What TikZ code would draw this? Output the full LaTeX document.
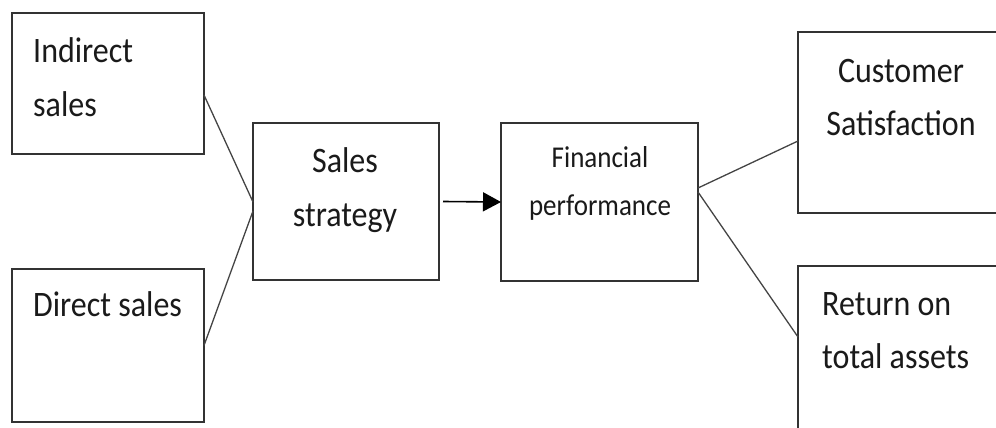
\documentclass[tikz,border=0pt]{standalone}
\usepackage{fontspec}
\usepackage{graphicx}
\setmainfont{Carlito}
\usetikzlibrary{calc,arrows.meta}
\definecolor{boxline}{HTML}{333333}
\definecolor{linkline}{HTML}{444444}
\definecolor{txt}{HTML}{1A1A1A}
% slightly tall lettering
\newcommand\tallword[1]{\scalebox{1}[1.12]{#1}}
\tikzset{
  block/.style={draw=boxline,line width=2pt,fill=white,inner sep=0pt,outer sep=0pt},
  link/.style={draw=linkline,line width=1.3pt},
  flow/.style={draw=black,line width=1.6pt,-{Triangle[length=18pt,width=19pt]}},
  bigtxt/.style={inner sep=0pt,text=txt,font=\fontsize{32}{40}\selectfont},
  smalltxt/.style={inner sep=0pt,text=txt,font=\fontsize{27}{34}\selectfont},
}
\begin{document}
\begin{tikzpicture}[x=1pt,y=-1pt]
\useasboundingbox (0,0) rectangle (996,428);
\clip (0,0) rectangle (996,428);

% boxes
\node[block,minimum width=192pt,minimum height=141pt] (ind) at (108,83.5) {};
\node[block,minimum width=192pt,minimum height=153pt] (dir) at (108,345.5) {};
\node[block,minimum width=186pt,minimum height=157pt] (strat) at (346,201.5) {};
\node[block,minimum width=197pt,minimum height=158pt] (fin) at (599.5,202) {};
\node[block,minimum width=206pt,minimum height=181pt] (cust) at (901,122.5) {};
\node[block,minimum width=206pt,minimum height=174pt] (ret) at (901,353) {};

% labels
\node[bigtxt,anchor=base west] (ind1) at (33,63) {\tallword{Indirect}};
\node[bigtxt,anchor=base west] (ind2) at (33,117) {\tallword{sales}};
\node[bigtxt,anchor=base west] (dir1) at (33,316) {\tallword{Direct sales}};
\node[bigtxt,anchor=base] (str1) at (345,172) {\tallword{Sales}};
\node[bigtxt,anchor=base] (str2) at (345,226) {\tallword{strategy}};
\node[smalltxt,anchor=base] (fin1) at (600,167) {\tallword{Financial}};
\node[smalltxt,anchor=base] (fin2) at (600,215) {\tallword{performance}};
\node[bigtxt,anchor=base] (cus1) at (901,83) {\tallword{Customer}};
\node[bigtxt,anchor=base] (cus2) at (901,135) {\tallword{Satisfaction}};
\node[bigtxt,anchor=base west] (ret1) at (822,315) {\tallword{Return on}};
\node[bigtxt,anchor=base west] (ret2) at (822,368) {\tallword{total assets}};

% connectors
\draw[link] ($(ind.east)+(0,11.5)$) -- ($(strat.west)+(0,0.5)$);
\draw[link] (dir.east) -- ($(strat.west)+(0,9.5)$);
\draw[flow] ($(strat.east)+(4,0)$) -- (fin.west);
\draw[link] ($(fin.east)+(0,-14)$) -- ($(cust.west)+(0,18.5)$);
\draw[link] ($(fin.east)+(0,-10)$) -- ($(ret.west)+(0,-16)$);
\end{tikzpicture}
\end{document}
